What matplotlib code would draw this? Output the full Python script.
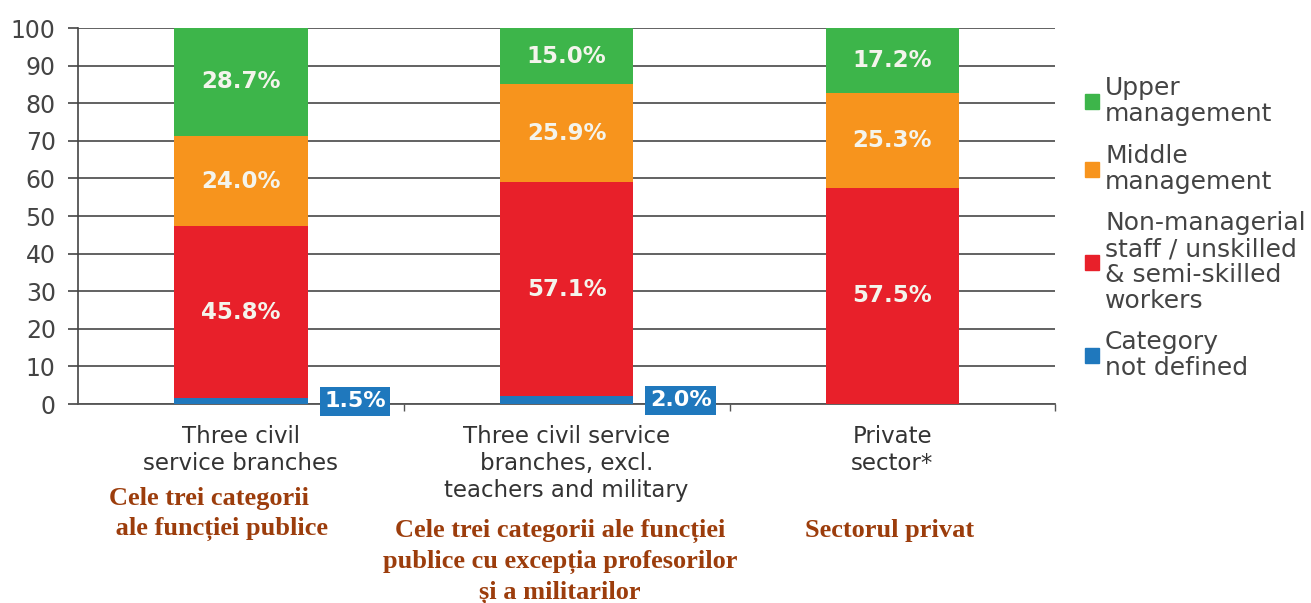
import matplotlib.pyplot as plt
import numpy as np
from matplotlib.patches import Patch

categories = ["Three civil\nservice branches",
              "Three civil service\nbranches, excl.\nteachers and military",
              "Private\nsector*"]
romanian = ["Cele trei categorii\n ale funcției publice",
            "Cele trei categorii ale funcției\npublice cu excepția profesorilor\nși a militarilor",
            "Sectorul privat"]

not_defined = [1.5, 2.0, 0.0]
non_managerial = [45.8, 57.1, 57.5]
middle = [24.0, 25.9, 25.3]
upper = [28.7, 15.0, 17.2]

series = [
    ("Category\nnot defined", not_defined, "#1f78bd"),
    ("Non-managerial\nstaff / unskilled\n& semi-skilled\nworkers", non_managerial, "#e8202a"),
    ("Middle\nmanagement", middle, "#f7941d"),
    ("Upper\nmanagement", upper, "#3db54a"),
]

plt.rcParams["font.family"] = ["DejaVu Sans"]

fig = plt.figure(figsize=(13.11, 6.03), dpi=100)
ax = fig.add_axes([0.0595, 0.330, 0.7455, 0.6235])

x = np.arange(len(categories))
width = 0.41
bottom = np.zeros(len(categories))
for name, vals, color in series:
    vals = np.array(vals)
    ax.bar(x, vals, width, bottom=bottom, color=color, zorder=3, label=name)
    for xi, b, v in zip(x, bottom, vals):
        if v <= 0:
            continue
        if v < 5:
            # small share: boxed label beside the bar
            ax.text(xi + 0.35, b + v / 2, f"{v:.1f}%", ha="center", va="center",
                    color="white", fontsize=16, fontweight="bold", zorder=5,
                    bbox=dict(boxstyle="square,pad=0.2", fc=color, ec="none"))
        else:
            ax.text(xi, b + v / 2, f"{v:.1f}%", ha="center", va="center",
                    color="#f4f4ec", fontsize=16.5, fontweight="bold", zorder=4)
    bottom += vals

ax.set_xlim(-0.5, 2.5)
ax.set_ylim(0, 100)
ax.set_yticks(np.arange(0, 101, 10))
ax.tick_params(axis="y", length=7, width=1.2, color="#444444",
               labelsize=17, labelcolor="#444444", pad=9)
ax.yaxis.grid(True, color="#555555", linewidth=1.3, zorder=0)

ax.set_xticks(x)
ax.set_xticklabels(categories, fontsize=16.5, color="#333333", linespacing=1.24)
ax.tick_params(axis="x", length=0, pad=15)
ax.set_xticks([0.5, 1.5, 2.5], minor=True)
ax.tick_params(axis="x", which="minor", length=5, width=1, color="#555555")

for s in ["top", "right"]:
    ax.spines[s].set_visible(False)
ax.spines["left"].set_color("#444444")
ax.spines["left"].set_linewidth(1.2)
ax.spines["bottom"].set_color("#555555")
ax.spines["bottom"].set_linewidth(1.3)

ro_x = [-0.07, 0.98, 1.99]
ro_y = [-0.22, -0.305, -0.305]
for xi, yi, txt in zip(ro_x, ro_y, romanian):
    ax.text(xi, yi, txt, transform=ax.get_xaxis_transform(), ha="center", va="top",
            multialignment="center" if "\n " not in txt else "left",
            family=["Liberation Serif", "DejaVu Serif"], fontweight="bold",
            fontsize=19, color="#9c3d0c", linespacing=1.38)

handles = [Patch(color=c, label=n) for n, _, c in series][::-1]
leg = fig.legend(handles=handles, loc="upper left", bbox_to_anchor=(0.82, 0.89),
                 frameon=False, fontsize=18, labelcolor="#444444",
                 handlelength=0.55, handleheight=0.55, handletextpad=0.25,
                 labelspacing=0.7, borderaxespad=0)
for t in leg.get_texts():
    t.set_linespacing(1.1)

fig.savefig("out.png", dpi=100)
